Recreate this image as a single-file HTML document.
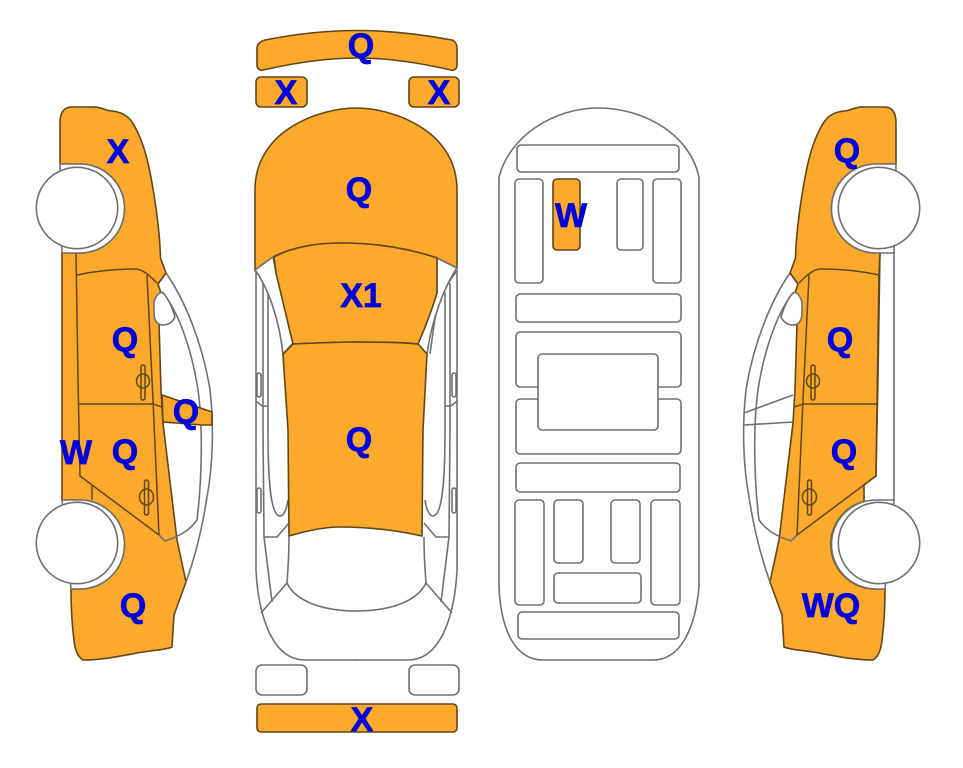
<!DOCTYPE html>
<html><head><meta charset="utf-8"><style>
html,body{margin:0;padding:0;background:#fff}
svg{display:block}
text{font-family:"Liberation Sans",sans-serif;font-weight:bold;font-size:34px;fill:#0000dc;stroke:#0000dc;stroke-width:.7;text-anchor:middle}
.o{fill:#fda92b;stroke:#60461c;stroke-width:1.6}
.g{fill:none;stroke:#707070;stroke-width:1.6}
.w{fill:#fff;stroke:#707070;stroke-width:1.6}
.d{fill:none;stroke:#5f4720;stroke-width:1.5}
</style></head><body>
<svg width="963" height="768" viewBox="0 0 963 768" xmlns="http://www.w3.org/2000/svg">
<defs>
<g id="sideWin">
<path class="g" d="M166,273 C185,300 203,345 210,390 C214,425 213,465 207,497 C202,530 195,557 186,582"/>
<path class="g" d="M162,292 C178,310 192,350 198,390 C203,425 202,480 197,520 C190,530 180,536 165,541 L159,535"/>
</g>
<g id="sideDoor">
<path class="d" d="M77,275 C95,271 115,269 135,269 C143,269 150,276 157,283"/>
<path class="d" d="M147,275 L153,400 L159,535"/>
<path class="d" d="M76,253 L78,380 L80,476 L159,535"/>
<path class="d" d="M78,404 H153 L162,407"/>
<path class="d" d="M158,284 L166,273"/>
<rect class="d" x="141" y="365" width="4" height="35" rx="2"/>
<ellipse class="d" cx="143" cy="381" rx="6.5" ry="7"/>
<rect class="d" x="144.500" y="480" width="4" height="35" rx="2"/>
<ellipse class="d" cx="146.500" cy="497" rx="7" ry="8"/>
</g>
<g id="wheels">
<path class="w" d="M60,164 H80 A44.5,44.5 0 0 1 80,253 H62 Z" style="stroke-linejoin:round"/>
<path class="w" d="M62,500 H80 A44.5,44.5 0 0 1 80,589 H71 Z"/>
<circle class="w" cx="77" cy="208" r="40.700"/>
<circle class="w" cx="77" cy="543" r="40.700"/>
</g>
<g id="topHalf">
<path class="g" d="M256,270 V570 C258,610 270,660 305,660 H357"/>
<path class="g" d="M256,271 C268,285 276,305 279,325 L283,354"/>
<path class="g" d="M268,292 V430 C268,475 270,516 280,516 C284,516 287,508 288,500"/>
<path class="g" d="M263,283 V430 L264,537 L272,602"/>
<path class="g" d="M256,401 L262,406 H268"/>
<path class="g" d="M289,523 L277,537 H264"/>
<path class="g" d="M289,537 C289,555 288,570 287,583 C295,600 320,611 357,611"/>
<path class="g" d="M287,583 L261,613"/>
<rect class="w" x="257" y="373" width="4" height="24" rx="2"/>
<rect class="w" x="257" y="488" width="4" height="25" rx="2"/>
</g>
</defs>

<!-- left side car -->
<path class="o" d="M60,164 V123 C60,112 64,107 72,107 H92 C100,106 106,111 112,111 C122,112 128,116 132,122 C145,142 150,170 154,195 C158,220 160,240 160.500,258 L166,273 L158,284 L161,293 L159,323 L161,390 L163,423 L177,540 L186,582 L174,615 L172,647 C165,650 155,650 143,652 C125,655 105,660 83,660 C78,657 75,650 74,640 C72,625 71,605 71,589 H80 A44.5,44.5 0 0 0 80,500 H62 V253 H80 A44.5,44.5 0 0 0 80,164 Z"/>
<use href="#sideWin"/>
<path class="w" d="M154,302 C156,296 159,291 163,293 C168,298 172,307 175,317 C172,323 168,325 163,325 C157,325 154,320 154,313 Z"/>
<use href="#sideDoor"/>
<path class="d" d="M92,485 V500"/>
<path class="o" d="M162,395 L212,412 V425 H202 L163,422 Z"/>
<use href="#wheels"/>

<!-- right side car -->
<g transform="translate(956,0) scale(-1,1)">
<path class="o" d="M60,164 V123 C60,112 64,107 72,107 H92 C100,106 106,111 112,111 C122,112 128,116 132,122 C145,142 150,170 154,195 C158,220 160,240 160.500,258 L166,273 L158,284 L161,293 L159,323 L161,390 L163,423 L177,540 L186,582 L174,615 L172,647 C165,650 155,650 143,652 C125,655 105,660 83,660 C78,657 75,650 74,640 C72,625 71,605 71,589 H80 A44.5,44.5 0 0 0 92,501.500 V485 L80,476 L77,275 L76,253 H80 A44.5,44.5 0 0 0 80,164 Z"/>
<use href="#sideWin"/>
<path class="w" d="M154,302 C156,296 159,291 163,293 C168,298 172,307 175,317 C172,323 168,325 163,325 C157,325 154,320 154,313 Z"/>
<use href="#sideDoor"/>
<path class="g" d="M62,253 V500"/>
<path class="g" d="M163,395 L212,413 M163,422 L212,425"/>
<use href="#wheels"/>
</g>

<!-- top view car -->
<use href="#topHalf"/>
<use href="#topHalf" transform="translate(713,0) scale(-1,1)"/>
<path class="o" d="M255,270 V190 C255,130 320,108 356,108 C392,108 457,130 457,190 V268 L437,258 C405,247 370,243 340,243 C315,243 290,248 273,257 Z"/>
<path class="w" d="M255,270 L273,257 L276,273 L293,343 L283,354 C280,325 270,290 255,270 Z"/>
<path class="w" d="M457,268 L437,258 L437,293 L418,344 L427,354 C431,325 442,290 457,268 Z"/>
<path class="o" d="M274,257 C290,248 315,243 340,243 C370,243 405,247 437,258 L437,293 C432,310 425,328 418,344 C395,342 370,342 357,342 C340,342 315,343 293,344 L276,273 Z"/>
<path class="o" d="M293,344 C315,343 340,342 357,342 C370,342 395,342 418,344 L427,354 L423,430 L422,536 C395,530 365,527 340,527 C325,527 305,531 289,536 L288,430 L283,354 Z"/>

<!-- bumpers -->
<path class="o" d="M257,48 C257,44 261,41 265,40 C295,34 325,30.500 357,30.500 C390,30.500 420,34 452,40 C455,41 457,44 457,48 V65 C457,69 454,71 451,70 C420,63 390,58 357,58 C325,58 295,63 263,70 C259,71 257,68 257,65 Z"/>
<rect class="o" x="256" y="77" width="51" height="30" rx="5"/>
<rect class="o" x="409" y="77" width="50" height="30" rx="5"/>
<rect class="w" x="256" y="665" width="51" height="30" rx="6"/>
<rect class="w" x="409" y="665" width="50" height="30" rx="6"/>
<rect class="o" x="257" y="704" width="200" height="28" rx="4"/>

<!-- underbody -->
<path class="w" d="M499,177 C510,135 555,108 598,108 C645,108 690,135 699,177 V587 C695,630 680,660 653,660 H543 C515,660 501,630 499,587 Z"/>
<rect class="w" x="517" y="145" width="162" height="27" rx="4"/>
<rect class="w" x="515" y="179" width="28" height="104" rx="4"/>
<rect class="o" x="553" y="179" width="27" height="71" rx="4"/>
<rect class="w" x="617" y="179" width="26" height="71" rx="4"/>
<rect class="w" x="653" y="179" width="28" height="104" rx="4"/>
<rect class="w" x="516" y="294" width="165" height="28" rx="4"/>
<rect class="w" x="516" y="332" width="165" height="55" rx="4"/>
<rect class="w" x="516" y="399" width="165" height="55" rx="4"/>
<rect class="w" x="538" y="354" width="120" height="76" rx="4"/>
<rect class="w" x="516" y="463" width="164" height="29" rx="4"/>
<rect class="w" x="515" y="500" width="29" height="105" rx="4"/>
<rect class="w" x="554" y="500" width="29" height="63" rx="4"/>
<rect class="w" x="611" y="500" width="29" height="63" rx="4"/>
<rect class="w" x="651" y="500" width="29" height="105" rx="4"/>
<rect class="w" x="554" y="573" width="87" height="30" rx="4"/>
<rect class="w" x="518" y="612" width="161" height="27" rx="4"/>

<!-- labels -->
<text x="361" y="57">Q</text>
<text x="286" y="104">X</text>
<text x="439" y="104">X</text>
<text x="359" y="201">Q</text>
<text x="361" y="307">X1</text>
<text x="359" y="451">Q</text>
<text x="362" y="731">X</text>
<text x="571" y="227">W</text>
<text x="118" y="163">X</text>
<text x="125" y="351">Q</text>
<text x="125" y="463">Q</text>
<text x="76" y="464">W</text>
<text x="186" y="423">Q</text>
<text x="133" y="617">Q</text>
<text x="847" y="162">Q</text>
<text x="840" y="351">Q</text>
<text x="844" y="463">Q</text>
<text x="831" y="617">WQ</text>
</svg>
</body></html>
